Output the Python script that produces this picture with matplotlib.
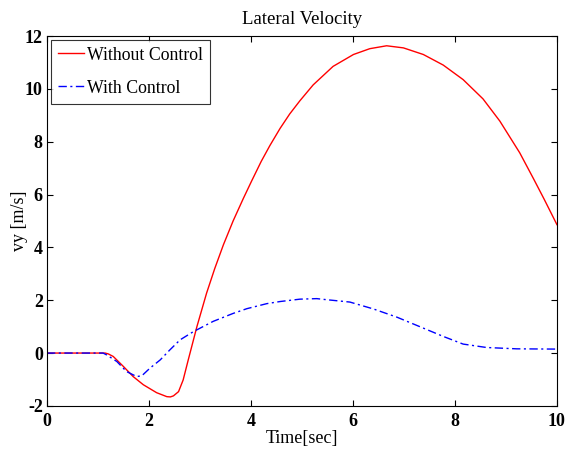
import matplotlib
matplotlib.use("Agg")
import matplotlib.pyplot as plt

# values
t_without = [0, 0.84, 1.14, 1.2, 1.3, 1.5, 1.69, 1.89, 2.15, 2.35, 2.42, 2.48, 2.58, 2.67,
             2.77, 2.94, 3.13, 3.29, 3.46, 3.65, 3.85, 4.01, 4.2, 4.37, 4.57, 4.76,
             4.96, 5.22, 5.61, 6.01, 6.33, 6.66, 6.99, 7.38, 7.77, 8.16, 8.55, 8.88, 9.27,
             9.54, 9.75, 10.0]
vy_without = [0, 0, 0, -0.03, -0.13, -0.51, -0.89, -1.2, -1.5, -1.65, -1.66, -1.62, -1.46, -1.02,
              -0.26, 1.0, 2.27, 3.2, 4.1, 5.0, 5.85, 6.5, 7.25, 7.85, 8.5, 9.05,
              9.55, 10.15, 10.85, 11.3, 11.52, 11.63, 11.55, 11.3, 10.9, 10.35, 9.62, 8.78, 7.58,
              6.6, 5.82, 4.86]

t_with = [0, 1.1, 1.17, 1.37, 1.56, 1.76, 1.86, 2.02, 2.22, 2.41, 2.61, 2.87, 3.26, 3.65,
          3.92, 4.31, 4.57, 4.96, 5.29, 5.48, 5.94, 6.4, 6.86, 7.31, 7.77, 8.16, 8.62, 9.21, 10.0]
vy_with = [0, 0, -0.07, -0.32, -0.7, -0.89, -0.86, -0.57, -0.26, 0.12, 0.5, 0.81, 1.2, 1.5,
           1.68, 1.87, 1.95, 2.04, 2.06, 2.02, 1.93, 1.67, 1.36, 1.0, 0.63, 0.34, 0.21, 0.16, 0.15]

x_ticks = [0, 2, 4, 6, 8, 10]
y_ticks = [-2, 0, 2, 4, 6, 8, 10, 12]

plt.rcParams['font.family'] = ['Liberation Serif', 'DejaVu Serif']
plt.rcParams['axes.unicode_minus'] = False

fig = plt.figure(figsize=(5.66, 4.5), dpi=100)
ax = fig.add_axes([0.083, 0.098, 0.901, 0.822])

ax.plot(t_without, vy_without, color='red', lw=1.0, label='Without Control')
ax.plot(t_with, vy_with, color='blue', lw=1.0, dashes=(6, 2.5, 1.5, 2.5), label='With Control')

ax.set_xlim(0, 10)
ax.set_ylim(-2, 12)
ax.set_xticks(x_ticks)
ax.set_yticks(y_ticks)
ax.tick_params(direction='in', top=True, right=True, length=4, width=0.8, labelsize=13)
ax.tick_params(axis='x', pad=5)
ax.tick_params(axis='y', pad=3)
for lab in ax.get_xticklabels() + ax.get_yticklabels():
    lab.set_fontweight('bold')
for s in ax.spines.values():
    s.set_linewidth(0.8)

ax.set_title('Lateral Velocity', fontsize=13.5, pad=9)
ax.set_xlabel('Time[sec]', fontsize=13, labelpad=0)
ax.set_ylabel('vy [m/s]', fontsize=13)
ax.yaxis.set_label_coords(-0.037, 0.5)

leg = ax.legend(loc='upper left', fontsize=12.8, frameon=True, fancybox=False,
                edgecolor='black', handlelength=1.5, handletextpad=0.15,
                borderaxespad=0.2, labelspacing=0.9, borderpad=0.4)
leg.get_frame().set_linewidth(0.8)

fig.savefig('out.png', dpi=100)
